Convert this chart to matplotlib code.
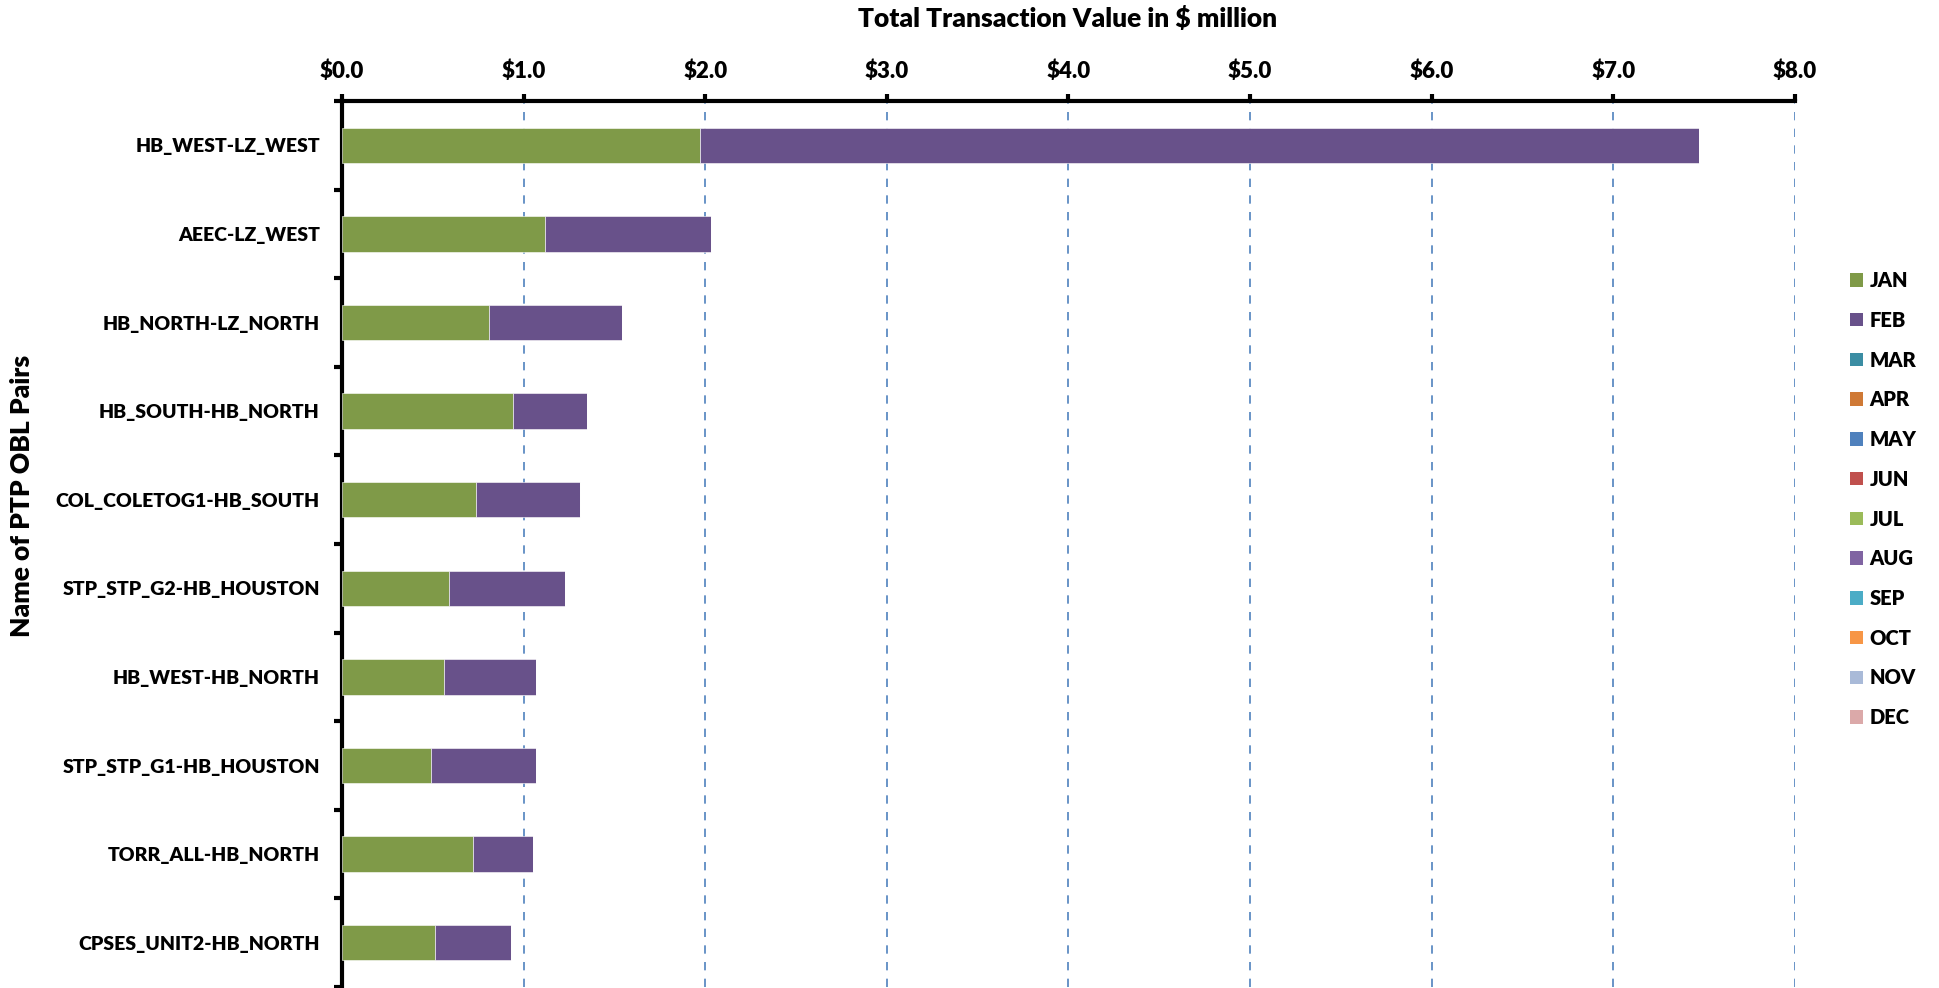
import matplotlib
matplotlib.use("Agg")
import matplotlib.pyplot as plt
from matplotlib.patches import Patch
from matplotlib.ticker import FuncFormatter, MultipleLocator
import numpy as np

plt.rcParams['font.family'] = ['Lato', 'DejaVu Sans']
plt.rcParams['font.weight'] = 'heavy'

# PTP OBL pairs, largest total first
pairs = [
    'HB_WEST-LZ_WEST', 'AEEC-LZ_WEST', 'HB_NORTH-LZ_NORTH', 'HB_SOUTH-HB_NORTH',
    'COL_COLETOG1-HB_SOUTH', 'STP_STP_G2-HB_HOUSTON', 'HB_WEST-HB_NORTH',
    'STP_STP_G1-HB_HOUSTON', 'TORR_ALL-HB_NORTH', 'CPSES_UNIT2-HB_NORTH',
]
months = ['JAN', 'FEB', 'MAR', 'APR', 'MAY', 'JUN',
          'JUL', 'AUG', 'SEP', 'OCT', 'NOV', 'DEC']

# transaction value, $ million
jan = [1.97, 1.12, 0.81, 0.94, 0.74, 0.59, 0.56, 0.49, 0.72, 0.51]
feb = [5.50, 0.91, 0.73, 0.41, 0.57, 0.64, 0.51, 0.58, 0.33, 0.42]
# no transactions recorded yet for the remaining months
rest = [[0.0] * len(pairs) for _ in months[2:]]

month_colors = ['#7F9A48', '#68518A', '#3B8DA3', '#CF7935', '#4F81BD', '#C0504D',
                '#9BBB59', '#8064A2', '#4BACC6', '#F79646', '#A9BAD8', '#DBA9A9']

values = np.array([jan, feb] + rest)

fig = plt.figure(figsize=(19.39, 9.88), dpi=100)
ax = fig.add_axes([0.1764, 0.001, 0.7493, 0.8967])

y = np.arange(len(pairs))
left = np.zeros(len(pairs))
for i, m in enumerate(months):
    ax.barh(y, values[i], left=left, height=0.4, color=month_colors[i],
            edgecolor='white', linewidth=0.4, zorder=3)
    left += values[i]

ax.set_xlim(0, 8)
ax.set_ylim(len(pairs) - 0.5, -0.5)

ax.xaxis.tick_top()
ax.xaxis.set_major_locator(MultipleLocator(1))
ax.xaxis.set_major_formatter(FuncFormatter(lambda v, p: f'${v:.1f}'))
ax.tick_params(axis='x', which='major', direction='out', length=5, width=3,
               labelsize=16, pad=9, colors='black')
ax.grid(axis='x', color='#4F81BD', linestyle=(0, (5, 5)), linewidth=1.2, zorder=0)

ax.set_yticks(y)
ax.set_yticklabels(pairs)
ax.set_yticks(np.arange(-0.5, len(pairs)), minor=True)
ax.tick_params(axis='y', which='major', length=0, labelsize=14.0, pad=16)
ax.tick_params(axis='y', which='minor', direction='out', length=6, width=3)

for side in ('right', 'bottom'):
    ax.spines[side].set_visible(False)
for side in ('top', 'left'):
    ax.spines[side].set_linewidth(3)

fig.text(0.5505, 0.981, 'Total Transaction Value in $ million', ha='center', va='center',
         fontsize=19)
fig.text(0.0115, 0.498, 'Name of PTP OBL Pairs', ha='center', va='center',
         rotation=90, fontsize=19)

handles = [Patch(facecolor=c, edgecolor='none') for c in month_colors]
fig.legend(handles, months, loc='upper left', bbox_to_anchor=(0.9445, 0.744),
           frameon=False, fontsize=14.5, handlelength=0.65, handleheight=0.65,
           handletextpad=0.35, labelspacing=1.03)

fig.savefig('out.png', dpi=100)
